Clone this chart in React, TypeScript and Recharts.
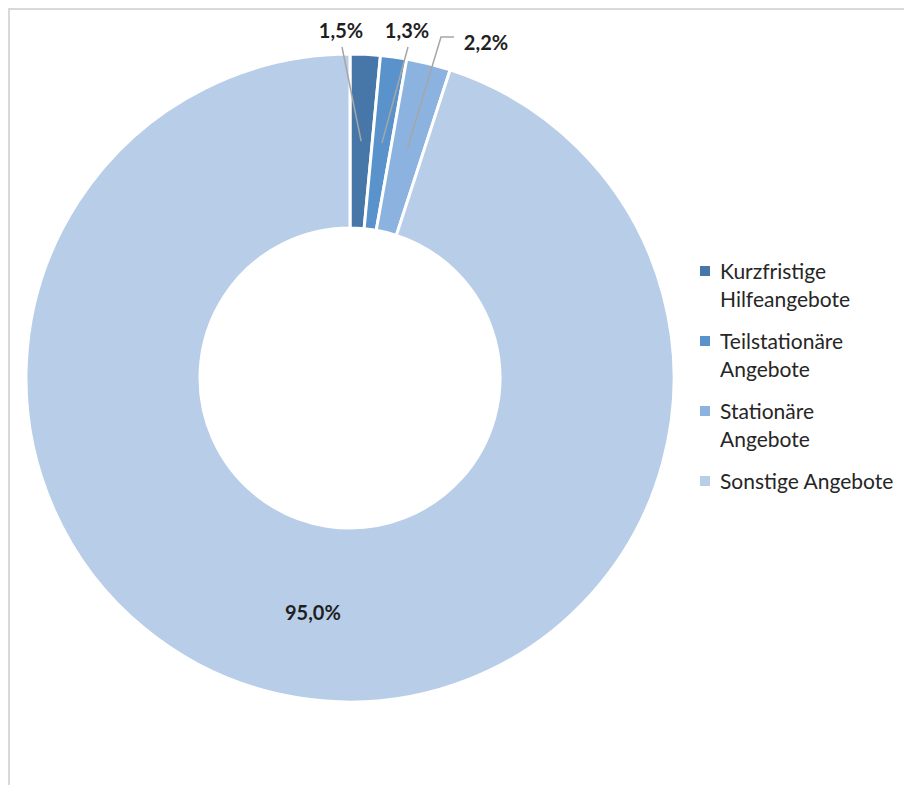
import { PieChart, Pie, Cell, Legend } from 'recharts'

const categories = [
  'Kurzfristige Hilfeangebote',
  'Teilstationäre Angebote',
  'Stationäre Angebote',
  'Sonstige Angebote'
]
const shares = [1.5, 1.3, 2.2, 95.0]

const COLORS = ['#4677A8', '#5A92CC', '#8CB3DF', '#B8CDE8']
const FONT = 'Lato, "Noto Sans", sans-serif'

// label placement relative to pie center (null = inside the ring)
const LABEL_OFFSETS: ({ dx: number; dy: number; elbow?: boolean } | null)[] = [
  { dx: -9, dy: -348 },
  { dx: 57, dy: -348 },
  { dx: 136, dy: -336, elbow: true },
  null
]

const data = categories.map((name, i) => ({ name, value: shares[i] }))

const fmt = (v: number) => v.toFixed(1).replace('.', ',') + '%'

const RAD = Math.PI / 180

function renderLabel(props: any) {
  const { cx, cy, midAngle, innerRadius, outerRadius, index, value } = props
  const r = (innerRadius + outerRadius) / 2
  const ax = cx + r * Math.cos(-midAngle * RAD)
  const ay = cy + r * Math.sin(-midAngle * RAD)
  const off = LABEL_OFFSETS[index]
  const textStyle = { fontFamily: FONT, fontSize: 20, fontWeight: 700, fill: '#1F1F1F' }
  if (!off) {
    return (
      <text x={ax} y={ay} textAnchor="middle" dominantBaseline="central" style={textStyle}>
        {fmt(value)}
      </text>
    )
  }
  const lx = cx + off.dx
  const ly = cy + off.dy
  const pts = off.elbow
    ? `${ax},${ay} ${lx - 45},${ly - 5} ${lx - 32},${ly - 5}`
    : `${ax},${ay} ${lx + 1},${ly + 17}`
  return (
    <g>
      <polyline points={pts} fill="none" stroke="#A6A6A6" strokeWidth={1.5} />
      <text x={lx} y={ly} textAnchor="middle" dominantBaseline="central" style={textStyle}>
        {fmt(value)}
      </text>
    </g>
  )
}

function LegendContent() {
  return (
    <div style={{ display: 'flex', flexDirection: 'column', gap: 14, fontFamily: FONT }}>
      {categories.map((name, i) => (
        <div key={name} style={{ display: 'flex', alignItems: 'flex-start' }}>
          <span
            style={{
              width: 10,
              height: 10,
              background: COLORS[i],
              marginTop: 9,
              marginRight: 10,
              flex: 'none'
            }}
          />
          <span style={{ fontSize: 21, lineHeight: '28px', color: '#262626', width: 180 }}>{name}</span>
        </div>
      ))}
    </div>
  )
}

export default function App() {
  return (
    <div style={{ position: 'relative', width: 904, height: 777, overflow: 'hidden', background: '#fff' }}>
      <div
        style={{
          position: 'absolute',
          left: 0,
          top: 0,
          width: 1200,
          height: 1200,
          border: '2px solid #D9D9D9',
          boxSizing: 'border-box'
        }}
      />
      <div style={{ position: 'absolute', left: 0, top: 0 }}>
        <PieChart width={904} height={777} margin={{ top: 0, right: 0, bottom: 0, left: 0 }}>
          <Pie
            data={data}
            dataKey="value"
            nameKey="name"
            cx={342}
            cy={370}
            innerRadius={150}
            outerRadius={324}
            startAngle={90}
            endAngle={-270}
            stroke="#FFFFFF"
            strokeWidth={3}
            label={renderLabel}
            labelLine={false}
            isAnimationActive={false}
          >
            {data.map((d, i) => (
              <Cell key={d.name} fill={COLORS[i]} />
            ))}
          </Pie>
          <Legend
            layout="vertical"
            align="right"
            verticalAlign="middle"
            content={<LegendContent />}
            wrapperStyle={{ left: 692, top: 249, width: 212 }}
          />
        </PieChart>
      </div>
    </div>
  )
}
